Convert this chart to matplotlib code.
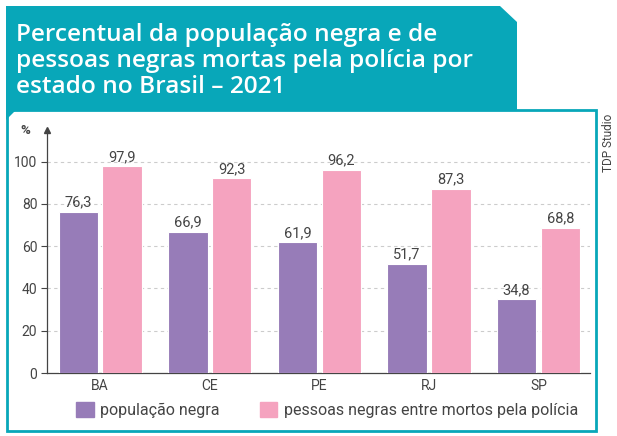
import numpy as np
import matplotlib.pyplot as plt
from matplotlib.patches import Polygon, Rectangle, Patch


STATES = ['BA', 'CE', 'PE', 'RJ', 'SP']
POP_NEGRA = [76.3, 66.9, 61.9, 51.7, 34.8]
MORTOS = [97.9, 92.3, 96.2, 87.3, 68.8]
YTICKS = [0, 20, 40, 60, 80, 100]

TITLE_LINES = ['Percentual da população negra e de',
               'pessoas negras mortas pela polícia por',
               'estado no Brasil – 2021']
LABELS = ('população negra', 'pessoas negras entre mortos pela polícia')

TEAL = '#08a7b9'
PURPLE = '#977cb8'
PINK = '#f5a3bf'
GREY = '#444444'

plt.rcParams['font.family'] = ['Roboto', 'DejaVu Sans']

W, H = 617, 436
fig = plt.figure(figsize=(W / 100, H / 100), dpi=100)

# background frame drawn in pixel coords
bg = fig.add_axes([0, 0, 1, 1], zorder=-1)
bg.set_xlim(0, W)
bg.set_ylim(H, 0)
bg.axis('off')
bg.add_patch(Polygon([(6, 6), (500, 6), (517, 22), (517, 111), (6, 111)],
                     closed=True, color=TEAL, lw=0))
bg.add_patch(Rectangle((7, 110), 589, 321, facecolor='white',
                       edgecolor=TEAL, lw=2))
bg.add_patch(Polygon([(6, 109), (17, 109), (6, 120)], closed=True,
                     color=TEAL, lw=0))
for i, line in enumerate(TITLE_LINES):
    bg.text(16, 41 + 26 * i, line, color='white', fontsize=17.6,
            fontweight='semibold', family=['Open Sans', 'DejaVu Sans'],
            va='baseline', ha='left')
bg.text(609, 143, 'TDP Studio', rotation=90, fontsize=8.5, color=GREY,
        ha='center', va='center')

# chart
ax = fig.add_axes([47 / W, 1 - 373 / H, (590 - 47) / W, (373 - 130) / H])
x = np.arange(len(STATES))
w = 0.36
b1 = ax.bar(x - 0.2, POP_NEGRA, w, color=PURPLE, edgecolor='white', lw=0.8,
            zorder=3)
b2 = ax.bar(x + 0.2, MORTOS, w, color=PINK, edgecolor='white', lw=0.8,
            zorder=3)
for bars, vals in ((b1, POP_NEGRA), (b2, MORTOS)):
    for r, v in zip(bars, vals):
        ax.text(r.get_x() + r.get_width() / 2, v + 1.0,
                f'{v:.1f}'.replace('.', ','), ha='center', va='bottom',
                fontsize=10.5, color=GREY)

ax.set_xlim(-0.485, 4.47)
ax.set_ylim(0, 115)
ax.set_xticks(x)
ax.set_xticklabels(STATES)
ax.set_yticks(YTICKS)
ax.tick_params(axis='x', length=0, pad=4, labelsize=10, labelcolor=GREY)
ax.tick_params(axis='y', length=4, width=0.8, color=GREY, pad=3,
               labelsize=10, labelcolor=GREY)
for v in YTICKS[1:]:
    ax.axhline(v, color='#cccccc', lw=0.8, ls=(0, (3, 3)), zorder=1)
for s in ('top', 'right'):
    ax.spines[s].set_visible(False)
ax.spines['left'].set_color(GREY)
ax.spines['bottom'].set_color(GREY)
ax.spines['left'].set_linewidth(0.9)
ax.spines['bottom'].set_linewidth(0.9)
ax.plot(0, 1, '^', color=GREY, ms=4, transform=ax.transAxes, clip_on=False)
ax.text(-0.03, 1.0, '%', transform=ax.transAxes, fontsize=9.5,
        fontweight='bold', color=GREY, ha='right', va='center')

fig.legend(handles=[Patch(color=PURPLE, label=LABELS[0]),
                    Patch(color=PINK, label=LABELS[1])],
           loc='center', bbox_to_anchor=(327 / W, 1 - 410 / H), ncol=2,
           frameon=False, fontsize=11.5, handlelength=1.1, handleheight=1.1,
           handletextpad=0.4, columnspacing=2.5, labelcolor=GREY)

fig.savefig('out.png', dpi=100)
